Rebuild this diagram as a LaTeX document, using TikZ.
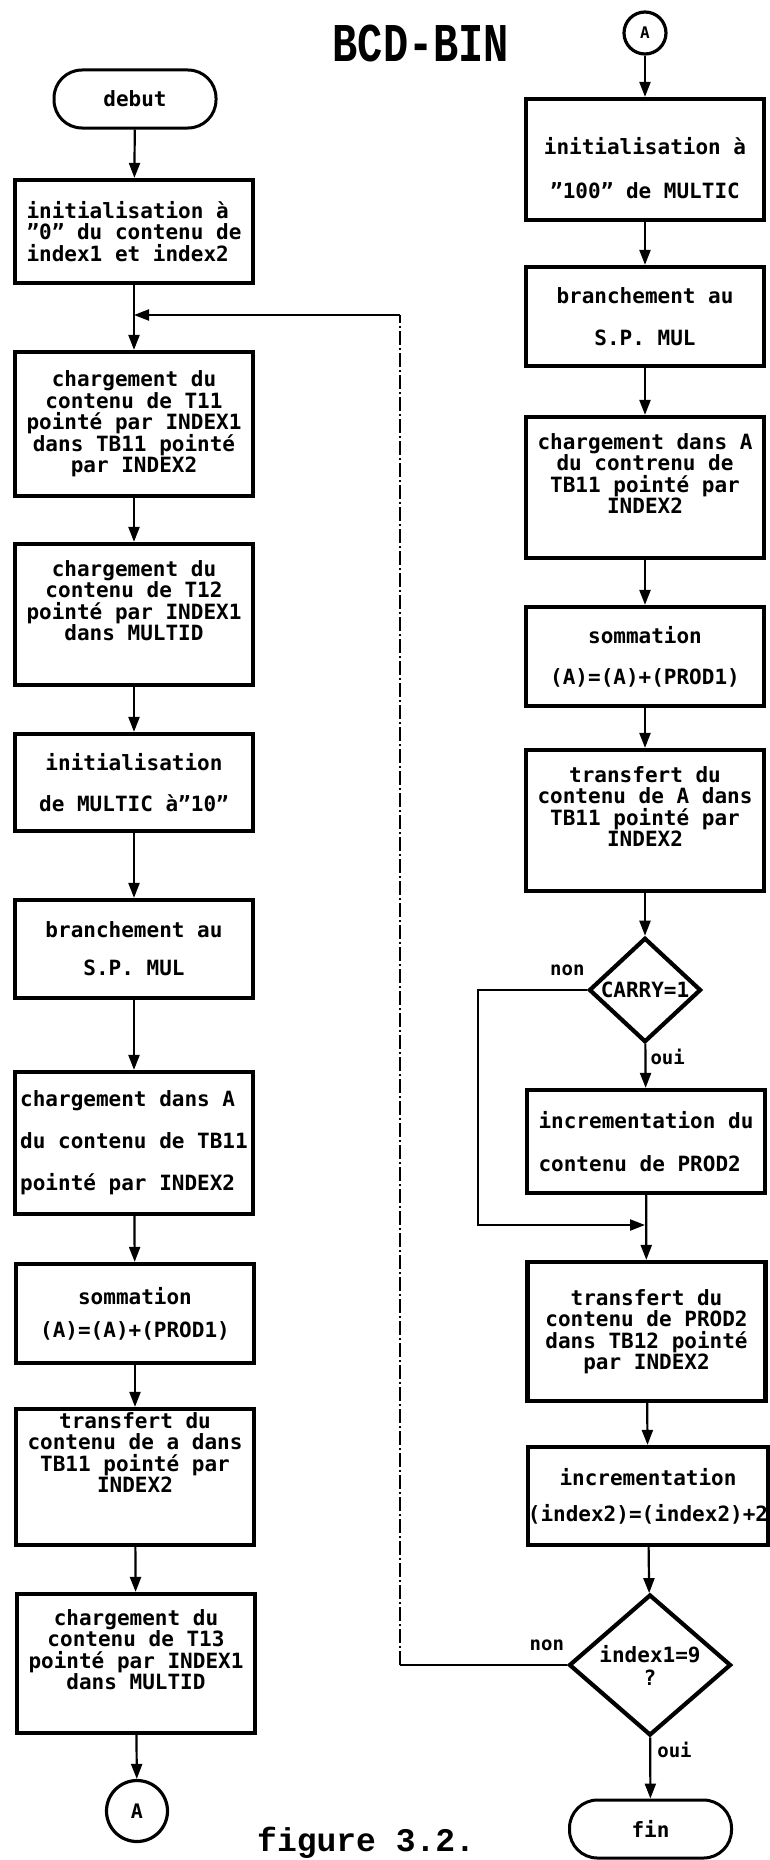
\documentclass[tikz,border=0pt]{standalone}
\usepackage{fontspec}
\setmainfont{DejaVu Sans Mono}
\newfontfamily\capfont{Liberation Mono}
\usetikzlibrary{arrows.meta,shapes.geometric}
\begin{document}
\begin{tikzpicture}[x=1pt,y=-1pt,
  box/.style={draw, line width=4.2pt, minimum width=238pt, inner sep=0pt, align=center, font=\bfseries\fontsize{21}{21.5}\selectfont},
  sp/.style={font=\bfseries\fontsize{21}{#1}\selectfont},
  term/.style={draw, line width=3pt, rounded corners=28pt, minimum width=162pt, minimum height=58pt, inner sep=0pt, font=\bfseries\fontsize{21}{21.5}\selectfont},
  conn/.style={draw, circle, line width=3.2pt, inner sep=0pt},
  dec/.style={draw, diamond, line width=4.2pt, inner sep=0pt, align=center, font=\bfseries\fontsize{21}{23}\selectfont},
  arr/.style={line width=2.2pt, -{Triangle[length=15pt,width=11pt]}},
  lbl/.style={font=\bfseries\fontsize{19}{20}\selectfont, inner sep=0pt},
]
\useasboundingbox (0,0) rectangle (770,1860);

% title and caption
\node[inner sep=0pt, font=\capfont\bfseries\fontsize{42}{42}\selectfont] (title) at (421,44) {\scalebox{1}[1.3]{BCD-BIN}};
\node[inner sep=0pt, anchor=base west, font=\capfont\bfseries\fontsize{33}{33}\selectfont] (cap) at (257,1851) {figure 3.2.};

% left column
\node[term] (debut) at (135,99) {debut};
\node[box, align=left, minimum height=103pt] (b1) at (134,231.5) {initialisation à\\”0” du contenu de\\index1 et index2};
\node[box, minimum height=144pt] (b2) at (134,424) {chargement du\\contenu de T11\\pointé par INDEX1\\dans TB11 pointé\\par INDEX2};
\node[box, minimum height=141pt] (b3) at (134,614.5) {chargement du\\contenu de T12\\pointé par INDEX1\\dans MULTID\\\strut};
\node[box, sp=41, minimum height=97pt] (b4) at (134,782.5) {initialisation\\de MULTIC à”10”};
\node[box, sp=38, minimum height=98pt] (b5) at (134,949) {branchement au\\S.P. MUL};
\node[box, sp=42, align=left, minimum height=142pt] (b6) at (134,1143) {chargement dans A\\du contenu de TB11\\pointé par INDEX2};
\node[box, sp=33, minimum height=99pt] (b7) at (135,1313.5) {sommation\\(A)=(A)+(PROD1)};
\node[box, minimum height=136pt] (b8) at (135,1477) {transfert du\\contenu de a dans\\TB11 pointé par\\INDEX2\\\strut\\\strut};
\node[box, minimum height=139pt] (b9) at (136,1663.5) {chargement du\\contenu de T13\\pointé par INDEX1\\dans MULTID\\\strut};
\node[conn, minimum size=61pt, font=\bfseries\fontsize{20}{20}\selectfont] (cA) at (137,1811) {A};

% right column
\node[conn, minimum size=42pt, font=\bfseries\fontsize{16}{16}\selectfont] (cB) at (645,33) {A};
\node[box, sp=44, minimum height=121pt] (r1) at (645,159.5) {\rule{0pt}{34pt}initialisation à\\”100” de MULTIC};
\node[box, sp=42, minimum height=99pt] (r2) at (645,316.5) {branchement au\\S.P. MUL};
\node[box, minimum height=141pt] (r3) at (645,487.5) {chargement dans A\\du contrenu de\\TB11 pointé par\\INDEX2\\\strut};
\node[box, sp=41, minimum height=99pt] (r4) at (645,656.5) {sommation\\(A)=(A)+(PROD1)};
\node[box, minimum height=141pt] (r5) at (645,820.5) {transfert du\\contenu de A dans\\TB11 pointé par\\INDEX2\\\strut};
\node[dec, minimum width=112pt, minimum height=102pt] (d1) at (645,990) {CARRY=1};
\node[box, sp=43, align=left, minimum height=103pt] (r6) at (646,1141.5) {incrementation du\\contenu de PROD2};
\node[box, minimum height=139pt] (r7) at (646.5,1331.5) {transfert du\\contenu de PROD2\\dans TB12 pointé\\par INDEX2};
\node[box, sp=36, minimum height=98pt] (r8) at (648,1496) {incrementation\\(index2)=(index2)+2};
\node[dec, aspect=1.15, minimum width=162pt, minimum height=141pt] (d2) at (650,1665) {index1=9\\?};
\node[term] (fin) at (650.5,1829) {fin};

% helper coordinates
\coordinate (mrg) at (645,1225);
\coordinate (nb) at (478,990);
\coordinate (lin) at (134,315);
\coordinate (lp1) at (400,1665);
\coordinate (lp2) at (400,315);

% connectors
\foreach \a/\b in {debut/b1,b1/b2,b2/b3,b3/b4,b4/b5,b5/b6,b6/b7,b7/b8,b8/b9,b9/cA,cB/r1,r1/r2,r2/r3,r3/r4,r4/r5,r5/d1,r6/r7,r7/r8,r8/d2}
  \draw[arr] (\a) -- (\b);
\draw[arr] (d1) -- node[lbl, anchor=west, pos=0.3, xshift=4pt] (oui1) {oui} (r6);
\draw[arr] (d2) -- node[lbl, anchor=west, pos=0.2, xshift=6pt] (oui2) {oui} (fin);
\draw[arr] (d1.west) -- node[lbl, above=13pt, pos=0.18] (non1) {non} (nb) |- (mrg);
\draw[line width=1.8pt] (d2.west) -- node[lbl, above=13pt, pos=0.12] (non2) {non} (lp1);
\draw[line width=1.3pt, dash pattern=on 14pt off 3pt on 2pt off 3pt] (lp1) -- (lp2);
\draw[arr] (lp2) -- (lin);
\end{tikzpicture}
\end{document}
